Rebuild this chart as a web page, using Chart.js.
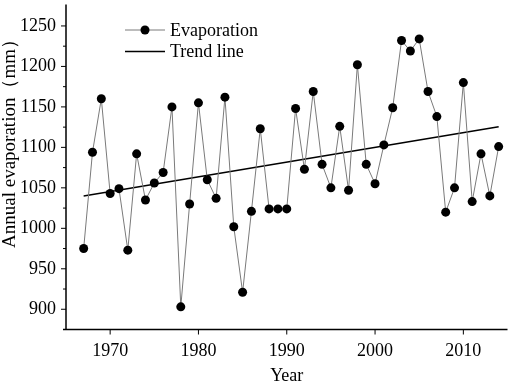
<!DOCTYPE html>
<html>
<head>
<meta charset="utf-8">
<script src="https://cdn.jsdelivr.net/npm/chart.js@4/dist/chart.umd.min.js"></script>
<style>
  html, body { margin: 0; padding: 0; background: #fff; }
</style>
</head>
<body>
<canvas id="evapChart" width="512" height="385"></canvas>
<script>
// data
const years = [1967, 1968, 1969, 1970, 1971, 1972, 1973, 1974, 1975, 1976,
  1977, 1978, 1979, 1980, 1981, 1982, 1983, 1984, 1985, 1986,
  1987, 1988, 1989, 1990, 1991, 1992, 1993, 1994, 1995, 1996,
  1997, 1998, 1999, 2000, 2001, 2002, 2003, 2004, 2005, 2006,
  2007, 2008, 2009, 2010, 2011, 2012, 2013, 2014];
const evaporation = [975, 1094, 1160, 1043, 1049, 973, 1092, 1035, 1056, 1069,
  1150, 903, 1030, 1155, 1060, 1037, 1162, 1002, 921, 1021,
  1123, 1024, 1024, 1024, 1148, 1073, 1169, 1079, 1050, 1126,
  1047, 1202, 1079, 1055, 1103, 1149, 1232, 1219, 1234, 1169,
  1138, 1020, 1050, 1180, 1033, 1092, 1040, 1101];
const trendYears = [1967, 2014];
const trendValues = [1040, 1125.5];
const xTicks = [1970, 1980, 1990, 2000, 2010];
const yTicks = [900, 950, 1000, 1050, 1100, 1150, 1200, 1250];
const xTitle = 'Year';
const yTitle = 'Annual evaporation（mm）';

const serif = '"Liberation Serif", "Times New Roman", serif';

// axis lines, ticks, titles and the legend
const axisPlugin = {
  id: 'axisTicks',
  afterDraw(chart) {
    const ctx = chart.ctx;
    const xs = chart.scales.x, ys = chart.scales.y;
    const area = chart.chartArea;
    ctx.save();
    ctx.strokeStyle = '#000';
    ctx.lineWidth = 1.5;
    ctx.beginPath();
    ctx.moveTo(area.left, area.top);
    ctx.lineTo(area.left, area.bottom);
    ctx.moveTo(area.left - 3, area.bottom);
    ctx.lineTo(area.right, area.bottom);
    ctx.stroke();

    ctx.lineWidth = 1;
    ctx.beginPath();
    ys.ticks.forEach((t, i) => {
      const py = ys.getPixelForValue(t.value);
      ctx.moveTo(area.left, py);
      ctx.lineTo(area.left - 5, py);
      if (i < ys.ticks.length - 1) {
        const my = ys.getPixelForValue((t.value + ys.ticks[i + 1].value) / 2);
        ctx.moveTo(area.left, my);
        ctx.lineTo(area.left - 3, my);
      }
    });
    xs.ticks.forEach(t => {
      const px = xs.getPixelForValue(t.value);
      ctx.moveTo(px, area.bottom);
      ctx.lineTo(px, area.bottom + 5);
    });
    ctx.stroke();

    // axis titles
    ctx.fillStyle = '#000';
    ctx.textAlign = 'center';
    ctx.textBaseline = 'middle';
    ctx.font = '18px ' + serif;
    ctx.fillText(xTitle, (area.left + area.right) / 2, 376);
    ctx.save();
    ctx.translate(10, 139);
    ctx.rotate(-Math.PI / 2);
    ctx.font = '19px ' + serif;
    ctx.fillText(yTitle, 0, 0);
    ctx.restore();

    // legend
    const rows = [30, 51.5];
    ctx.font = '18px ' + serif;
    ctx.textAlign = 'left';
    chart.data.datasets.forEach((ds, i) => {
      const ly = rows[i];
      ctx.strokeStyle = ds.borderColor;
      ctx.lineWidth = ds.borderWidth;
      ctx.beginPath();
      ctx.moveTo(125, ly);
      ctx.lineTo(165, ly);
      ctx.stroke();
      if (ds.pointRadius > 0) {
        ctx.beginPath();
        ctx.arc(145, ly, ds.pointRadius, 0, Math.PI * 2);
        ctx.fill();
      }
      ctx.fillText(ds.label, 170, ly + 1);
    });
    ctx.restore();
  }
};

const data = {
  datasets: [
    {
      label: 'Evaporation',
      data: years.map((yr, i) => ({ x: yr, y: evaporation[i] })),
      borderColor: '#7a7a7a',
      borderWidth: 1,
      backgroundColor: '#000',
      pointRadius: 4.5,
      pointBorderWidth: 0,
      pointBackgroundColor: '#000',
      tension: 0,
    },
    {
      label: 'Trend line',
      data: trendYears.map((yr, i) => ({ x: yr, y: trendValues[i] })),
      borderColor: '#000',
      borderWidth: 1.5,
      pointRadius: 0,
      tension: 0,
    },
  ],
};

const config = {
  type: 'line',
  data: data,
  options: {
    responsive: false,
    animation: false,
    layout: { padding: { top: 1, right: 2, bottom: 0, left: 0 } },
    plugins: { legend: { display: false }, tooltip: { enabled: false } },
    scales: {
      x: {
        type: 'linear',
        min: 1965,
        max: 2015,
        afterBuildTicks: s => { s.ticks = xTicks.map(v => ({ value: v })); },
        afterFit: s => { s.height = 55.5; s.paddingLeft = 0; s.paddingRight = 0; },
        grid: { display: false, drawTicks: false },
        border: { display: false },
        ticks: { padding: 11, color: '#000', font: { family: serif, size: 18 }, callback: v => String(v), maxRotation: 0 },
        title: { display: false },
      },
      y: {
        min: 875,
        max: 1276.5,
        afterBuildTicks: s => { s.ticks = yTicks.map(v => ({ value: v })); },
        afterFit: s => { s.width = 66; s.paddingTop = 0; s.paddingBottom = 0; },
        grid: { display: false, drawTicks: false },
        border: { display: false },
        ticks: { padding: 10, color: '#000', font: { family: serif, size: 18 }, callback: v => String(v) },
        title: { display: false },
      },
    },
  },
  plugins: [axisPlugin],
};

const ctx = document.getElementById('evapChart').getContext('2d');
const evapChart = new Chart(ctx, config);
</script>
</body>
</html>
